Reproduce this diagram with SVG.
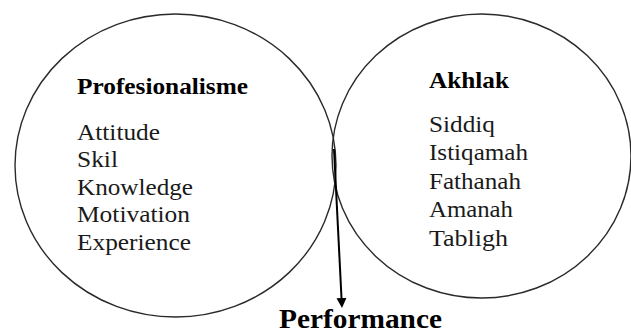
<svg xmlns="http://www.w3.org/2000/svg" width="631" height="333" viewBox="0 0 631 333">
  <style>
    .bg { fill: #ffffff; }
    .circle { fill: none; stroke: #2a2a2a; stroke-width: 1.4; }
    .txt { font-family: 'Liberation Serif', 'Times New Roman', Times, Tinos, 'Nimbus Roman', 'DejaVu Serif', 'Noto Serif', FreeSerif, serif; font-size: 24px; fill: #1a1a1a; }
    .head { font-weight: bold; fill: #000; }
    .perf { font-family: 'Liberation Serif', 'Times New Roman', Times, Tinos, 'Nimbus Roman', 'DejaVu Serif', 'Noto Serif', FreeSerif, serif; font-size: 27px; font-weight: bold; fill: #000; }
    .conn { stroke: #000; stroke-width: 2; fill: none; }
  </style>
  <defs>
    <marker id="arrow" viewBox="0 0 10 10" refX="0" refY="5" markerWidth="10" markerHeight="11" markerUnits="userSpaceOnUse" orient="auto">
      <path d="M0,0 L10,5 L0,10 z" fill="#000"/>
    </marker>
  </defs>
  <rect class="bg" x="0" y="0" width="631" height="333"/>

  <g id="node-profesionalisme">
    <ellipse class="circle" cx="175.5" cy="165.5" rx="160.5" ry="151.5"/>
    <text class="txt head" x="77" y="94" textLength="171" lengthAdjust="spacingAndGlyphs">Profesionalisme</text>
    <text class="txt" x="77" y="140" textLength="83" lengthAdjust="spacingAndGlyphs">Attitude</text>
    <text class="txt" x="77" y="167" textLength="41" lengthAdjust="spacingAndGlyphs">Skil</text>
    <text class="txt" x="77" y="195" textLength="116" lengthAdjust="spacingAndGlyphs">Knowledge</text>
    <text class="txt" x="77" y="222" textLength="113" lengthAdjust="spacingAndGlyphs">Motivation</text>
    <text class="txt" x="77" y="250" textLength="114" lengthAdjust="spacingAndGlyphs">Experience</text>
  </g>

  <g id="node-akhlak">
    <ellipse class="circle" cx="481.5" cy="156" rx="149.5" ry="142"/>
    <text class="txt head" x="429" y="88" textLength="80" lengthAdjust="spacingAndGlyphs">Akhlak</text>
    <text class="txt" x="429" y="132" textLength="66" lengthAdjust="spacingAndGlyphs">Siddiq</text>
    <text class="txt" x="429" y="160" textLength="99" lengthAdjust="spacingAndGlyphs">Istiqamah</text>
    <text class="txt" x="429" y="189" textLength="92" lengthAdjust="spacingAndGlyphs">Fathanah</text>
    <text class="txt" x="429" y="217" textLength="84" lengthAdjust="spacingAndGlyphs">Amanah</text>
    <text class="txt" x="429" y="246" textLength="79" lengthAdjust="spacingAndGlyphs">Tabligh</text>
  </g>

  <g id="node-performance">
    <text class="perf" x="279" y="328" textLength="163" lengthAdjust="spacingAndGlyphs">Performance</text>
  </g>

  <g id="connectors">
    <line class="conn" x1="334" y1="149" x2="341.5" y2="298" marker-end="url(#arrow)"/>
  </g>
</svg>
